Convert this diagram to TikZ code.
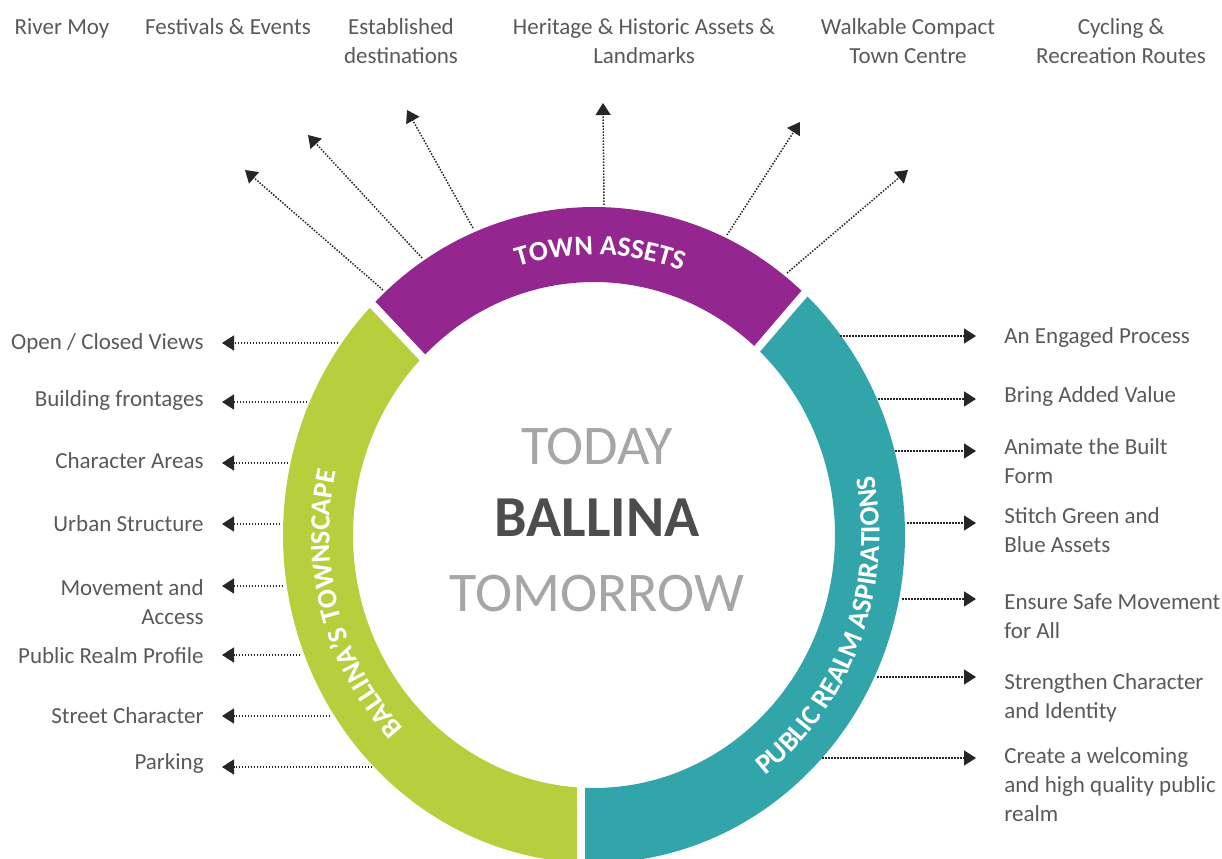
\documentclass[tikz,border=0pt]{standalone}
\usepackage{fontspec}
\setmainfont{Carlito}
\usetikzlibrary{arrows.meta, decorations.text, calc}
\definecolor{assetpurple}{RGB}{147,39,143}
\definecolor{townlime}{RGB}{184,207,61}
\definecolor{realmteal}{RGB}{50,165,170}
\definecolor{labelgrey}{RGB}{89,89,89}
\definecolor{lightgrey}{RGB}{166,166,166}
\definecolor{darkgrey}{RGB}{77,77,77}
\newcommand{\bandfont}{\fontsize{14}{14}\selectfont\bfseries\color{white}}
\tikzstyle{lab} = [text=labelgrey, font=\fontsize{11.5}{14.5}\selectfont, inner sep=0pt]
\tikzstyle{tlab} = [lab, align=center, anchor=base]
\tikzstyle{llab} = [lab, align=right, anchor=base east]
\tikzstyle{rlab} = [lab, align=left, anchor=base west]
\tikzstyle{big} = [font=\fontsize{28}{28}\selectfont, anchor=base, inner sep=0pt]
\tikzstyle{line} = [draw=black!85, line width=0.75pt, dash pattern=on 0.75pt off 0.75pt, -{Triangle[length=6pt, width=7.5pt]}]
\tikzstyle{bandtext} = [decorate, decoration={text along path, text align=center}]

\begin{document}
\begin{tikzpicture}[x=0.5pt, y=0.5pt]
    \useasboundingbox (0,0) rectangle (1222,858);
    \coordinate (c) at (594,323);

    % ring
    \fill[assetpurple] ($(c)+(48.15:155.5pt and 164pt)$) arc[start angle=48.15, end angle=134.65, x radius=155.5pt, y radius=164pt]
        -- ($(c)+(134.45:120.5pt and 126.5pt)$) arc[start angle=134.45, end angle=48.35, x radius=120.5pt, y radius=126.5pt] -- cycle;
    \fill[townlime] ($(c)+(136.15:155.5pt and 164pt)$) arc[start angle=136.15, end angle=266.87, x radius=155.5pt, y radius=164pt]
        -- ($(c)+(265.95:120.5pt and 126.5pt)$) arc[start angle=265.95, end angle=136.35, x radius=120.5pt, y radius=126.5pt] -- cycle;
    \fill[realmteal] ($(c)+(268.34:155.5pt and 164pt)$) arc[start angle=268.34, end angle=406.65, x radius=155.5pt, y radius=164pt]
        -- ($(c)+(406.45:120.5pt and 126.5pt)$) arc[start angle=406.45, end angle=267.86, x radius=120.5pt, y radius=126.5pt] -- cycle;

    \path[bandtext, decoration={text={|\bandfont|TOWN ASSETS}}]
        ($(c)+(123.7:133pt and 140pt)$) arc[start angle=123.7, end angle=53.7, x radius=133pt, y radius=140pt];
    \path[bandtext, decoration={text={|\bandfont|BALLINA’S TOWNSCAPE}}]
        ($(c)+(235:132.25pt and 139pt)$) arc[start angle=235, end angle=156, x radius=132.25pt, y radius=139pt];
    \path[bandtext, decoration={text={|\bandfont|PUBLIC REALM ASPIRATIONS}}]
        ($(c)+(-61:142.75pt and 150.25pt)$) arc[start angle=-61, end angle=19, x radius=142.75pt, y radius=150.25pt];

    % centre
    \node[big, text=lightgrey] (today) at (597,393) {TODAY};
    \node[big, text=darkgrey, font=\fontsize{29}{29}\selectfont\bfseries] (ballina) at (597,321) {BALLINA};
    \node[big, text=lightgrey] (tomorrow) at (597,246) {TOMORROW};

    % town assets
    \node[tlab] (moy) at (62,823) {River Moy};
    \node[tlab] (fest) at (228,823) {Festivals \& Events};
    \node[tlab] (dest) at (401,794) {Established\\destinations};
    \node[tlab] (heri) at (644,794) {Heritage \& Historic Assets \&\\Landmarks};
    \node[tlab] (walk) at (908,794) {Walkable Compact\\Town Centre};
    \node[tlab] (cycl) at (1121,794) {Cycling \&\\Recreation Routes};

    \coordinate (ta1) at (383,568); \coordinate (tp1) at (245,688);
    \coordinate (ta2) at (422,600); \coordinate (tp2) at (308,723);
    \coordinate (ta3) at (473,630); \coordinate (tp3) at (407,748);
    \coordinate (ta4) at (604,653); \coordinate (tp4) at (603,755);
    \coordinate (ta5) at (727,623); \coordinate (tp5) at (800,736);
    \coordinate (ta6) at (787,585); \coordinate (tp6) at (908,688);

    \path[line] (ta1) -- (tp1);
    \path[line] (ta2) -- (tp2);
    \path[line] (ta3) -- (tp3);
    \path[line] (ta4) -- (tp4);
    \path[line] (ta5) -- (tp5);
    \path[line] (ta6) -- (tp6);

    % townscape
    \node[llab] (views) at (204,508) {Open / Closed Views};
    \node[llab] (front) at (204,451) {Building frontages};
    \node[llab] (areas) at (204,389) {Character Areas};
    \node[llab] (urban) at (204,326) {Urban Structure};
    \node[llab] (move) at (204,234) {Movement and\\Access};
    \node[llab] (prof) at (204,195) {Public Realm Profile};
    \node[llab] (street) at (204,134) {Street Character};
    \node[llab] (park) at (204,89) {Parking};

    \coordinate (lt1) at (338,515);
    \coordinate (lt2) at (307,456);
    \coordinate (lt3) at (288,395);
    \coordinate (lt4) at (280,334);
    \coordinate (lt5) at (283,272);
    \coordinate (lt6) at (300,203);
    \coordinate (lt7) at (330,142);
    \coordinate (lt8) at (372,91);

    \path[line, shorten >=9pt] (lt1) -- (lt1 -| views.east);
    \path[line, shorten >=9pt] (lt2) -- (lt2 -| front.east);
    \path[line, shorten >=9pt] (lt3) -- (lt3 -| areas.east);
    \path[line, shorten >=9pt] (lt4) -- (lt4 -| urban.east);
    \path[line, shorten >=9pt] (lt5) -- (lt5 -| move.east);
    \path[line, shorten >=9pt] (lt6) -- (lt6 -| prof.east);
    \path[line, shorten >=9pt] (lt7) -- (lt7 -| street.east);
    \path[line, shorten >=9pt] (lt8) -- (lt8 -| park.east);

    % public realm aspirations
    \node[rlab] (engage) at (1004,514) {An Engaged Process};
    \node[rlab] (value) at (1004,455) {Bring Added Value};
    \node[rlab] (animate) at (1004,374) {Animate the Built\\Form};
    \node[rlab] (stitch) at (1004,305) {Stitch Green and\\Blue Assets};
    \node[rlab] (safe) at (1004,220) {Ensure Safe Movement\\for All};
    \node[rlab] (ident) at (1004,140) {Strengthen Character\\and Identity};
    \node[rlab] (welcome) at (1004,37) {Create a welcoming\\and high quality public\\realm};

    \coordinate (pr1) at (840,522);
    \coordinate (pr2) at (878,459);
    \coordinate (pr3) at (895,407);
    \coordinate (pr4) at (907,335);
    \coordinate (pr5) at (902,259);
    \coordinate (pr6) at (877,181);
    \coordinate (pr7) at (822,100);

    \path[line, shorten >=14pt] (pr1) -- (pr1 -| engage.west);
    \path[line, shorten >=14pt] (pr2) -- (pr2 -| value.west);
    \path[line, shorten >=14pt] (pr3) -- (pr3 -| animate.west);
    \path[line, shorten >=14pt] (pr4) -- (pr4 -| stitch.west);
    \path[line, shorten >=14pt] (pr5) -- (pr5 -| safe.west);
    \path[line, shorten >=14pt] (pr6) -- (pr6 -| ident.west);
    \path[line, shorten >=14pt] (pr7) -- (pr7 -| welcome.west);
\end{tikzpicture}
\end{document}
